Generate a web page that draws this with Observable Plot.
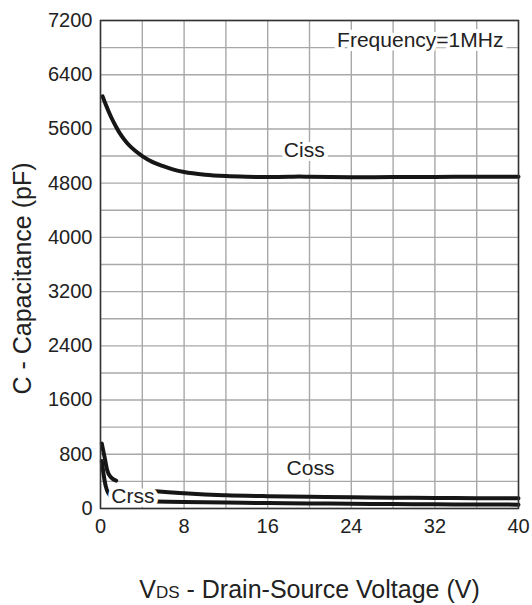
<!DOCTYPE html>
<html>
<head>
<meta charset="utf-8">
<script src="https://cdn.jsdelivr.net/npm/d3@7"></script>
<script src="https://cdn.jsdelivr.net/npm/@observablehq/plot@0.6"></script>
<style>
  html, body { margin: 0; padding: 0; background: #fff; }
  #chart { width: 532px; height: 605px; }
</style>
</head>
<body>
<div id="chart"></div>
<script>
// Ciss
const cissV = [0.2, 0.5, 1.0, 1.5, 2.0, 2.5, 3.0, 4.0, 5.0, 6.0, 7.0, 8.0, 10, 12, 14, 16, 18, 19, 20, 24, 28, 32, 36, 40];
const cissC = [6080, 5960, 5780, 5630, 5500, 5400, 5320, 5200, 5110, 5050, 5000, 4965, 4925, 4905, 4895, 4890, 4893, 4898, 4894, 4888, 4890, 4892, 4895, 4895];
// Coss (gap under "Crss" label shown as null)
const cossV = [0.12, 0.25, 0.4, 0.65, 1.0, 1.5, null, 5.3, 6.5, 8, 10, 12, 16, 20, 24, 28, 32, 36, 40];
const cossC = [960, 860, 750, 560, 460, 410, null, 255, 240, 225, 208, 196, 182, 173, 166, 160, 156, 152, 150];
// Crss
const crssV = [0.12, 0.3, 0.5, 0.7, 0.9, null, 5.3, 6.5, 8, 12, 16, 20, 24, 28, 32, 36, 40];
const crssC = [700, 500, 330, 240, 195, null, 105, 100, 95, 87, 80, 75, 70, 66, 62, 59, 57];

const xTicks = [0, 8, 16, 24, 32, 40];
const yTicks = [0, 800, 1600, 2400, 3200, 4000, 4800, 5600, 6400, 7200];
const xGrid = d3.range(0, 41, 4);
const yGrid = d3.range(0, 7201, 400);

const labelNames = ["Ciss", "Coss", "Crss", "Frequency=1MHz"];
const labelV = [19.5, 20.1, 3.1, 30.6];
const labelC = [5290, 600, 175, 6905];

const toRows = (vs, cs, name) => vs.map((v, i) => ({v, c: cs[i], name}));
const rows = [
  ...toRows(cissV, cissC, "Ciss"),
  ...toRows(cossV, cossC, "Coss"),
  ...toRows(crssV, crssC, "Crss")
];
const labels = labelNames.map((t, i) => ({t, v: labelV[i], c: labelC[i]}));

const font = "'Liberation Sans', Arial, Helvetica, sans-serif";

const chart = Plot.plot({
  width: 532,
  height: 605,
  marginLeft: 100,
  marginRight: 14,
  marginTop: 20,
  marginBottom: 97,
  style: {fontFamily: font, fontSize: "20px", color: "#222", background: "#fff"},
  x: {domain: [0, 40]},
  y: {domain: [0, 7200]},
  marks: [
    Plot.gridX(xGrid, {stroke: "#a8a8a8", strokeOpacity: 1, strokeWidth: 1.4}),
    Plot.gridY(yGrid, {stroke: "#a8a8a8", strokeOpacity: 1, strokeWidth: 1.4}),
    Plot.line(rows, {x: "v", y: "c", z: "name", stroke: "#161616", strokeWidth: 4, curve: "monotone-x"}),
    Plot.text(labels, {x: "v", y: "c", text: "t", fontSize: 21, fill: "#222", stroke: "#fff", strokeWidth: 8, paintOrder: "stroke"}),
    Plot.frame({stroke: "#333", strokeWidth: 1.5}),
    Plot.axisX(xTicks, {tickSize: 0, tickPadding: 10, fontSize: 20, tickFormat: d => String(d), label: "VDS - Drain-Source Voltage (V)", labelAnchor: "center", labelOffset: 89}),
    Plot.axisY(yTicks, {tickSize: 0, tickPadding: 8, fontSize: 20, tickFormat: d => String(d), label: "C - Capacitance (pF)", labelAnchor: "center", labelOffset: 87})
  ]
});

const svg = d3.select(chart);
// Axis label styling
svg.selectAll('[aria-label="x-axis label"] text, [aria-label="y-axis label"] text')
  .attr("font-size", 25).attr("fill", "#222");
const ylg = svg.select('[aria-label="y-axis label"]');
if (!ylg.empty()) {
  ylg.select("text").text("C - Capacitance (pF)");
  const t0 = ylg.attr("transform") || "";
  ylg.attr("transform", "translate(0,14) " + t0);
}
const xl = svg.select('[aria-label="x-axis label"] text');
if (!xl.empty()) {
  xl.text(null);
  xl.append("tspan").text("V");
  xl.append("tspan").attr("font-size", 17).text("DS");
  xl.append("tspan").text(" - Drain-Source Voltage (V)");
}
document.getElementById("chart").appendChild(chart);
</script>
</body>
</html>
